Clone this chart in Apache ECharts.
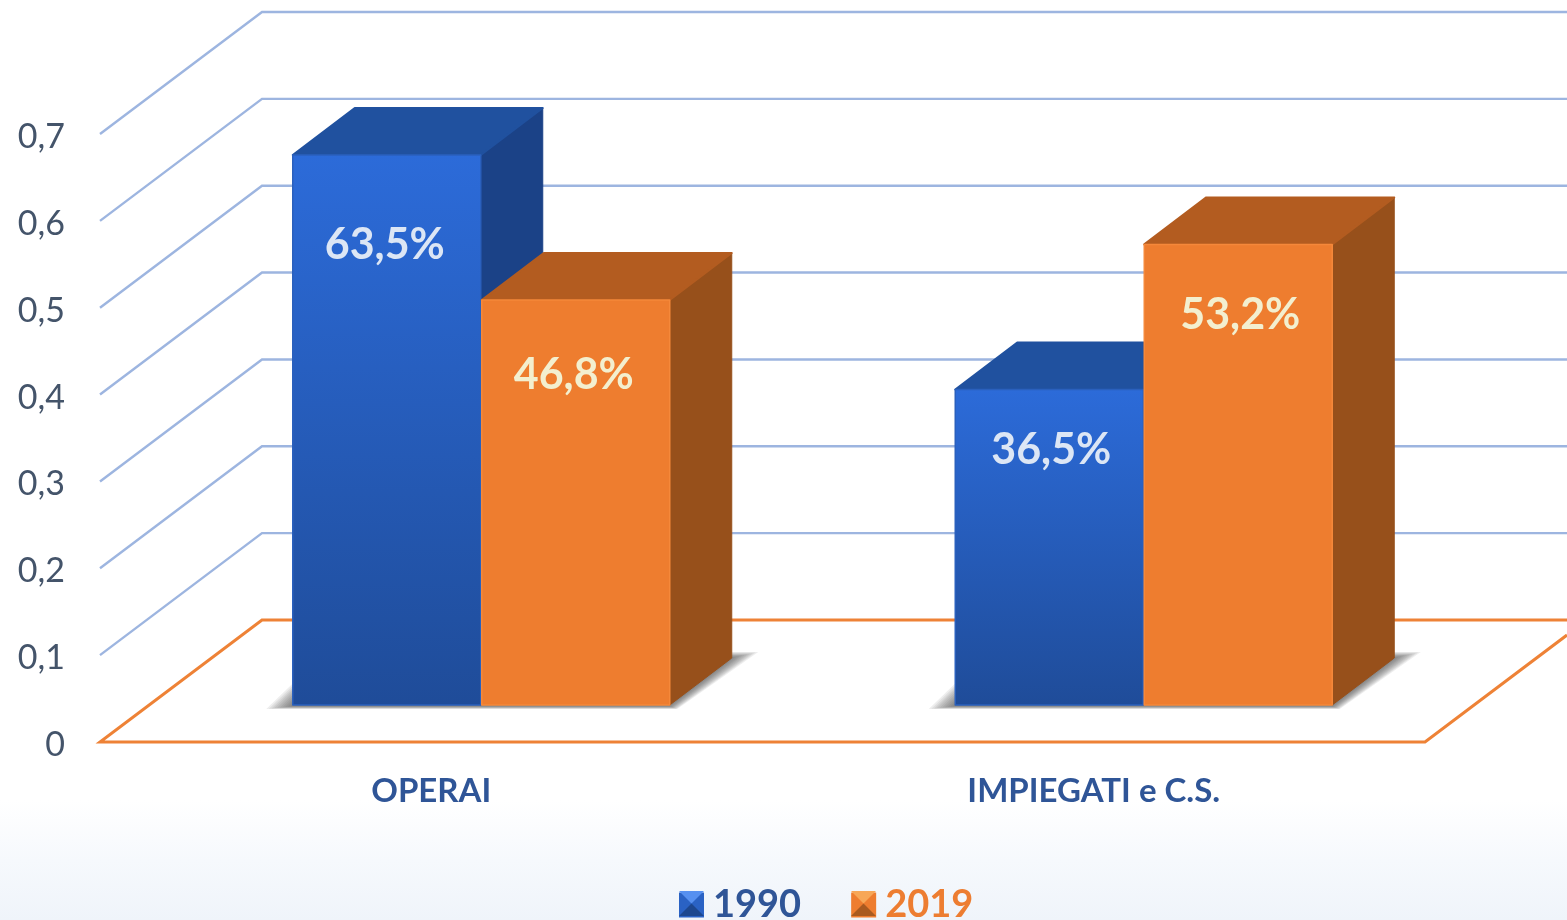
<!DOCTYPE html>
<html>
<head>
<meta charset="utf-8">
<style>html,body{margin:0;padding:0;background:#fff}#c{width:1567px;height:920px}</style>
<script src="https://cdn.jsdelivr.net/npm/echarts@6/dist/echarts.min.js"></script>
</head>
<body>
<div id="c"></div>
<script>
const categories = ['OPERAI', 'IMPIEGATI e C.S.'];
const seriesNames = ['1990', '2019'];
const values1990 = [0.635, 0.365];
const values2019 = [0.468, 0.532];
const gridTicks = [0.1, 0.2, 0.3, 0.4, 0.5, 0.6, 0.7];

const FONT = 'Lato, "Open Sans", sans-serif';
const WALL = [162, -122];   // wall depth relative to front plane
const BAR_SHIFT = [50, -37]; // bars stand inside the floor
const BAR_W = 188, DEPTH = [62, -47], TOP_INSET = 1.5;
const LABEL_NUDGE = [-2, 2];
const SHADOW_LAYERS = 10;
const BLUE = {front:['#2c6bd9','#1f4c99'], top:'#20519f', side:'#1b4287', edge:'#2a60bd', label:'#dce6f5'};
const ORANGE = {front:['#ee7d2f','#ee7d2f'], top:'#b35c20', side:'#97501b', edge:'#f5883a', label:'#f3efcf'};

const fmt = v => (v * 100).toFixed(1).replace('.', ',') + '%';

function barRenderer(palette, side, labelDrop) {
  return function (params, api) {
    const i = api.value(0), v = api.value(1);
    const base = api.coord([i, 0]), tip = api.coord([i, v]);
    const cx = base[0] + BAR_SHIFT[0];
    const x0 = side < 0 ? cx - BAR_W - 0.5 : cx + 0.5;
    const x1 = x0 + BAR_W;
    const yb = base[1] + BAR_SHIFT[1], yt = tip[1] + BAR_SHIFT[1] + TOP_INSET;
    const dx = DEPTH[0], dy = DEPTH[1];
    return {
      type: 'group',
      children: [
        {type:'polygon', shape:{points:[[x1,yt],[x1+dx,yt+dy],[x1+dx,yb+dy],[x1,yb]]},
          style:{fill:palette.side, stroke:palette.side, lineWidth:1, lineJoin:'round'}},
        {type:'polygon', shape:{points:[[x0,yt],[x0+dx,yt+dy],[x1+dx,yt+dy],[x1,yt]]},
          style:{fill:palette.top, stroke:palette.top, lineWidth:2, lineJoin:'round'}},
        {type:'polygon', shape:{points:[[x0,yt],[x1,yt],[x1,yb],[x0,yb]]},
          style:{fill:{type:'linear',x:0,y:0,x2:0,y2:1,colorStops:[{offset:0,color:palette.front[0]},{offset:1,color:palette.front[1]}]},
            stroke:palette.edge, lineWidth:1.5, lineJoin:'round'}},
        {type:'text', x:(x0+x1)/2 + LABEL_NUDGE[i], y:yt + labelDrop[i],
          style:{text:fmt(v), fill:palette.label, font:'bold 43px '+FONT, textAlign:'center', textVerticalAlign:'middle'}}
      ]
    };
  };
}

function renderGridLine(params, api) {
  const p = api.coord([0, api.value(1)]);
  const x = params.coordSys.x;
  return {type:'polyline', shape:{points:[[x,p[1]],[x+WALL[0],p[1]+WALL[1]],[api.getWidth(),p[1]+WALL[1]]]},
    style:{fill:null, stroke:'#9db5e0', lineWidth:2.4}};
}

function renderFloor(params, api) {
  const p = api.coord([0, 0]), cs = params.coordSys, W = api.getWidth();
  const x0 = cs.x, x1 = cs.x + cs.width, y = p[1];
  const k = WALL[1] / WALL[0];
  return {type:'polyline', shape:{points:[[W,y+WALL[1]],[x0+WALL[0],y+WALL[1]],[x0,y],[x1,y],[W,y+(W-x1)*k]]},
    style:{fill:null, stroke:'#ee8236', lineWidth:3}};
}

function renderShadow(params, api) {
  const b = api.coord([api.value(0), 0]);
  const cx = b[0] + BAR_SHIFT[0], yb = b[1] + BAR_SHIFT[1];
  const L = cx - BAR_W, R = cx + BAR_W, dx = DEPTH[0], dy = DEPTH[1];
  const children = [];
  for (let n = 0; n < SHADOW_LAYERS; n++) {
    const t = 1 - n / SHADOW_LAYERS;
    children.push({type:'polygon', shape:{points:[
      [L - 27*t, yb + 1 + 3*t], [L, yb - 22*t], [R + dx, yb + dy - 6*t],
      [R + dx + 27*t, yb + dy - 6*t], [R + 8*t, yb + 1 + 3*t]]},
      style:{fill:'rgba(60,60,60,0.085)'}});
  }
  return {type:'group', children};
}

const chart = echarts.init(document.getElementById('c'), null, {renderer:'canvas'});
chart.setOption({
  animation: false,
  backgroundColor: {type:'linear',x:0,y:0,x2:0,y2:1,colorStops:[
    {offset:0,color:'#ffffff'},{offset:0.87,color:'#ffffff'},{offset:0.935,color:'#f6f9fd'},{offset:1,color:'#eff4fa'}]},
  grid: {left:100, right:142, top:134, bottom:178, containLabel:false},
  xAxis: {type:'category', data:categories, axisLine:{show:false}, axisTick:{show:false}, splitLine:{show:false},
    axisLabel:{color:'#2f5597', fontFamily:FONT, fontWeight:'bold', fontSize:33, margin:33}},
  yAxis: {type:'value', min:0, max:0.7, interval:0.1, axisLine:{show:false}, axisTick:{show:false}, splitLine:{show:false},
    axisLabel:{color:'#44546a', fontFamily:FONT, fontSize:34, margin:35, verticalAlign:'top', lineHeight:6,
      formatter:v => String(+v.toFixed(1)).replace('.', ',')}},
  legend: {left:674, top:881, itemWidth:25, itemHeight:25, itemGap:50, icon:'rect', selectedMode:false,
    textStyle:{fontFamily:FONT, fontWeight:'bold', fontSize:38, padding:[0,0,0,4]},
    data:[{name:seriesNames[0], textStyle:{color:'#2f5597'}},{name:seriesNames[1], textStyle:{color:'#ed7d31'}}]},
  series: [
    {type:'custom', name:'grid', silent:true, z:1, renderItem:renderGridLine, data:gridTicks.map(v=>[0,v])},
    {type:'custom', name:'floor', silent:true, z:1, renderItem:renderFloor, data:[[0,0]]},
    {type:'custom', name:'shadow', silent:true, z:2, renderItem:renderShadow, data:categories.map((c,i)=>[i,0])},
    {type:'custom', name:seriesNames[0], z:3, itemStyle:{color:'#2a62c4'}, renderItem:barRenderer(BLUE,-1,[90,61]),
      data:values1990.map((v,i)=>[i,v])},
    {type:'custom', name:seriesNames[1], z:4, itemStyle:{color:'#ee7d2f'}, renderItem:barRenderer(ORANGE,1,[75,71]),
      data:values2019.map((v,i)=>[i,v])}
  ],
  graphic: [
    {type:'polygon', z:100, silent:true, shape:{points:[[679,891],[704,891],[691.5,903.5]]}, style:{fill:'#5690f0'}},
    {type:'polygon', z:100, silent:true, shape:{points:[[679,916],[704,916],[691.5,903.5]]}, style:{fill:'#1d478f'}},
    {type:'polygon', z:100, silent:true, shape:{points:[[851,891],[876,891],[863.5,903.5]]}, style:{fill:'#f7a757'}},
    {type:'polygon', z:100, silent:true, shape:{points:[[851,916],[876,916],[863.5,903.5]]}, style:{fill:'#a95a20'}}
  ]
});
</script>
</body>
</html>
